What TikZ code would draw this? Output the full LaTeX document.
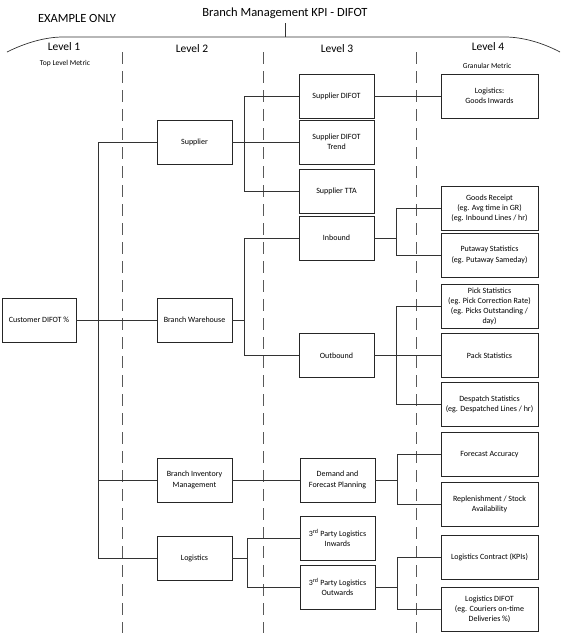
\documentclass[tikz,border=0pt]{standalone}
\usepackage{fontspec}
\setmainfont{Carlito}
\begin{document}
\begin{tikzpicture}[x=1pt,y=-1pt,
  box/.style={draw=black!85,line width=0.8pt,fill=white,align=center,inner sep=1pt,
    minimum width=75pt,minimum height=44pt,font=\fontsize{8}{10.2}\selectfont},
  wbox/.style={box,minimum width=97pt},
  conn/.style={draw=black!80,line width=0.7pt},
  dashline/.style={draw=black!65,line width=0.8pt,dash pattern=on 12pt off 7pt},
  lvl/.style={font=\fontsize{11.5}{13}\selectfont,inner sep=0pt},
  sub/.style={font=\fontsize{7.5}{8}\selectfont,inner sep=0pt}]
\useasboundingbox (0,0) rectangle (573,641);

% header
\node[font=\fontsize{12.5}{14}\selectfont,inner sep=0pt] (title) at (285,13) {Branch Management KPI - DIFOT};
\node[font=\fontsize{12.5}{14}\selectfont,inner sep=0pt] (ex) at (77,18) {EXAMPLE ONLY};
\draw[conn] (285,23) -- (285,37);
\draw[conn] (7,52) .. controls (25,43) and (45,37) .. (63,37) -- (505,37) .. controls (523,37) and (543,43) .. (560,52);

\node[lvl] (l1) at (64,47) {Level 1};
\node[sub] (l1s) at (65,63) {Top Level Metric};
\node[lvl] (l2) at (192,49) {Level 2};
\node[lvl] (l3) at (337,49) {Level 3};
\node[lvl] (l4) at (488,47) {Level 4};
\node[sub] (l4s) at (487,66) {Granular Metric};

% dashed separators
\draw[dashline] (122,52) -- (122,633);
\draw[dashline] (263,52) -- (263,633);
\draw[dashline] (416,52) -- (416,633);

% bus coordinates
\coordinate (t1) at (98,0);
\coordinate (t2) at (244,0);
\coordinate (t2b) at (247,0);
\coordinate (t3) at (396,0);
\coordinate (t3b) at (397,0);

% level 1
\node[box,minimum width=74pt] (cust) at (39,320) {Customer DIFOT \%};
% level 2
\node[box] (sup) at (194.5,142) {Supplier};
\node[box] (bw) at (194.5,320) {Branch Warehouse};
\node[box] (bim) at (194.5,480) {Branch Inventory\\Management};
\node[box] (log) at (194.5,558) {Logistics};
% level 3
\node[box] (sd) at (336.5,96) {Supplier DIFOT};
\node[box] (sdt) at (336.5,142) {Supplier DIFOT\\Trend};
\node[box] (stta) at (336.5,191) {Supplier TTA};
\node[box] (inb) at (336.5,238) {Inbound};
\node[box] (outb) at (336.5,355.5) {Outbound};
\node[box] (dfp) at (337.5,480) {Demand and\\Forecast Planning};
\node[box] (pli) at (337.5,538) {3\textsuperscript{rd} Party Logistics\\Inwards};
\node[box] (plo) at (337.5,587) {3\textsuperscript{rd} Party Logistics\\Outwards};
% level 4
\node[wbox] (lgi) at (489.5,96) {Logistics:\\Goods Inwards};
\node[wbox] (gr) at (489.5,208.5) {Goods Receipt\\(eg. Avg time in GR)\\(eg. Inbound Lines / hr)};
\node[wbox] (put) at (489.5,255) {Putaway Statistics\\(eg. Putaway Sameday)};
\node[wbox] (pick) at (489.5,306.5) {Pick Statistics\\(eg. Pick Correction Rate)\\(eg. Picks Outstanding /\\day)};
\node[wbox] (pack) at (489.5,355.5) {Pack Statistics};
\node[wbox] (desp) at (489.5,404.5) {Despatch Statistics\\(eg. Despatched Lines / hr)};
\node[wbox] (fa) at (489.5,454.5) {Forecast Accuracy};
\node[wbox] (rep) at (489.5,504.5) {Replenishment / Stock\\Availability};
\node[wbox] (lc) at (489.5,557.5) {Logistics Contract (KPIs)};
\node[wbox] (ld) at (489.5,609.5) {Logistics DIFOT\\(eg. Couriers on-time\\Deliveries \%)};

% connectors level 1 -> 2
\draw[conn] (cust.east) -- (bw.west);
\draw[conn] (sup.west) -- (sup.west -| t1) -- (log.west -| t1) -- (log.west);
\draw[conn] (bim.west) -- (bim.west -| t1);
% level 2 -> 3
\draw[conn] (sup.east) -- (sdt.west);
\draw[conn] (sd.west) -- (sd.west -| t2) -- (stta.west -| t2) -- (stta.west);
\draw[conn] (bw.east) -- (bw.east -| t2);
\draw[conn] (inb.west) -- (inb.west -| t2) -- (outb.west -| t2) -- (outb.west);
\draw[conn] (bim.east) -- (dfp.west);
\draw[conn] (log.east) -- (log.east -| t2b);
\draw[conn] (pli.west) -- (pli.west -| t2b) -- (plo.west -| t2b) -- (plo.west);
% level 3 -> 4
\draw[conn] (sd.east) -- (lgi.west);
\draw[conn] (inb.east) -- (inb.east -| t3);
\draw[conn] (gr.west) -- (gr.west -| t3) -- (put.west -| t3) -- (put.west);
\draw[conn] (outb.east) -- (pack.west);
\draw[conn] (pick.west) -- (pick.west -| t3) -- (desp.west -| t3) -- (desp.west);
\draw[conn] (dfp.east) -- (dfp.east -| t3b);
\draw[conn] (fa.west) -- (fa.west -| t3b) -- (rep.west -| t3b) -- (rep.west);
\draw[conn] (plo.east) -- (plo.east -| t3b);
\draw[conn] (lc.west) -- (lc.west -| t3b) -- (ld.west -| t3b) -- (ld.west);
\end{tikzpicture}
\end{document}
